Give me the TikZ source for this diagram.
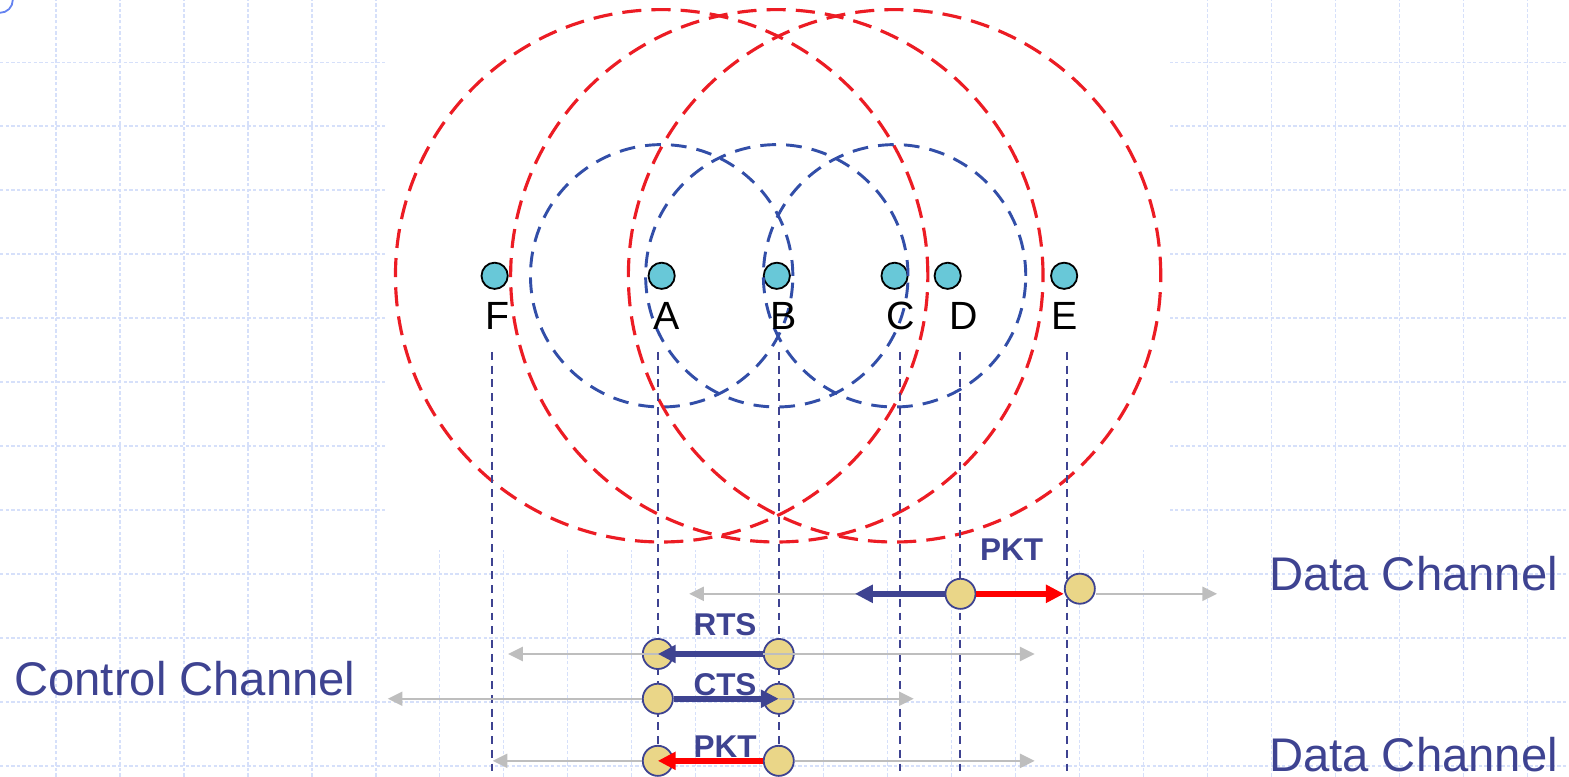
\documentclass[tikz,border=0pt]{standalone}
\usepackage{fontspec}
\setmainfont{Liberation Sans}
\usepackage{tikz}
\usetikzlibrary{
        arrows.meta,
        positioning
    }
\definecolor{chanblue}{RGB}{62,67,145}
\definecolor{rangeblue}{RGB}{50,78,168}
\definecolor{rangered}{RGB}{236,28,36}
\definecolor{stationcyan}{RGB}{104,200,216}
\definecolor{pktyellow}{RGB}{234,214,136}
\definecolor{gridblue}{RGB}{214,224,250}
\definecolor{spillgray}{RGB}{190,190,190}
\definecolor{cornerblue}{RGB}{100,130,240}
\tikzset{
    station/.style={circle,draw=black,fill=stationcyan,line width=0.8pt,inner sep=0pt,minimum size=0.41cm},
    lbl/.style={font=\fontsize{17.5}{20}\selectfont,inner sep=0pt},
    txnode/.style={circle,draw=chanblue,fill=pktyellow,line width=0.8pt,inner sep=0pt,minimum size=0.47cm},
    msg/.style={font=\bfseries\fontsize{14}{16}\selectfont,text=chanblue,inner sep=0pt},
    chan/.style={font=\fontsize{21}{25}\selectfont,text=chanblue,inner sep=0pt},
    shortrange/.style={draw=rangeblue,line width=1.3pt,dash pattern=on 7pt off 4.5pt},
    longrange/.style={draw=rangered,line width=1.4pt,dash pattern=on 8.5pt off 4.5pt},
    timeline/.style={draw=chanblue,line width=0.75pt,dash pattern=on 3.5pt off 2.6pt},
    sig/.style={line width=2.6pt,-{Triangle[length=0.28cm,width=0.27cm]}},
    spill/.style={draw=spillgray,line width=0.9pt,-{Triangle[length=0.23cm,width=0.22cm]}},
    gridline/.style={draw=gridblue,line width=0.5pt,dash pattern=on 1.5pt off 1pt}
}

\begin{document}
\begin{tikzpicture}[node distance=2cm]
    \useasboundingbox (0,0) rectangle (24.52,12.14);
    % squared paper
    \foreach \x in {0.875,1.875,...,23.875}
        \draw[gridline] (\x,0) -- (\x,12.14);
    \foreach \y in {0.17,1.17,...,11.17}
        \draw[gridline] (0,\y) -- (24.52,\y);
    \fill[white] (6.02,3.55) rectangle (18.28,12.14);
    \draw[cornerblue,line width=0.8pt] (0,12.14) circle (0.2);

    % stations
    \node[station] (A) at (10.34,7.83) {};
    \node[station] (B) [right of=A,node distance=1.80cm] {};
    \node[station] (C) [right of=B,node distance=1.84cm] {};
    \node[station] (D) [right of=C,node distance=0.83cm] {};
    \node[station] (E) [right of=D,node distance=1.82cm] {};
    \node[station] (F) [left of=A,node distance=2.61cm] {};

    % transmission ranges
    \foreach \s in {A,B,C} {
        \draw[shortrange] (\s) circle (2.05);
        \draw[longrange] (\s) circle (4.16);
    }

    \node[lbl] (labF) at (7.77,7.20) {F};
    \node[lbl] (labA) at (10.41,7.20) {A};
    \node[lbl] (labB) at (12.25,7.20) {B};
    \node[lbl] (labC) at (14.08,7.20) {C};
    \node[lbl] (labD) at (15.06,7.20) {D};
    \node[lbl] (labE) at (16.64,7.20) {E};

    % time lines
    \foreach \n/\x in {F/7.69,A/10.28,B/12.17,C/14.06,D/15.00,E/16.67} {
        \coordinate (top\n) at (\x,6.64);
        \coordinate (bot\n) at (\x,0);
        \draw[timeline] (top\n) -- (bot\n);
    }

    % data channel, upper
    \coordinate (dataL) at (10.77,2.86);
    \coordinate (dataR) at (19.02,2.86);
    \coordinate (dataTip) at (13.36,2.86);
    \node[txnode] (dD) at (15.01,2.86) {};
    \node[txnode] (dE) at (16.875,2.94) {};
    \draw[spill] (dD) -- (dataL);
    \draw[spill] (dE.east |- dD) -- (dataR);
    \draw[sig,chanblue] (dD) -- (dataTip);
    \draw[sig,red] (dD) -- (dE.west |- dD);
    \node[msg] (pkt1) at (15.81,3.55) {PKT};

    % control channel
    \coordinate (rtsL) at (7.94,1.92);
    \coordinate (rtsR) at (16.17,1.92);
    \coordinate (ctsL) at (6.06,1.22);
    \coordinate (ctsR) at (14.28,1.22);
    \node[txnode] (rA) at (10.28,1.92) {};
    \node[txnode] (rB) at (12.17,1.92) {};
    \node[txnode] (cA) at (10.28,1.22) {};
    \node[txnode] (cB) at (12.17,1.22) {};
    \draw[spill,{Triangle[length=0.23cm,width=0.22cm]}-{Triangle[length=0.23cm,width=0.22cm]}] (rtsL) -- (rtsR);
    \draw[sig,chanblue] (rB) -- (rA.center);
    \node[msg] (rts) at (11.33,2.375) {RTS};
    \draw[spill] (cA) -- (ctsL);
    \draw[spill] (cB.center) -- (ctsR);
    \draw[sig,chanblue] (cA) -- (cB.center);
    \node[msg] (cts) at (11.33,1.44) {CTS};

    % data channel, lower
    \coordinate (pktL) at (7.70,0.25);
    \coordinate (pktR) at (16.17,0.25);
    \node[txnode] (pA) at (10.28,0.25) {};
    \node[txnode] (pB) at (12.17,0.25) {};
    \draw[spill] (pA) -- (pktL);
    \draw[spill] (pB) -- (pktR);
    \draw[sig,red] (pB) -- (pA.center);
    \node[msg] (pkt2) at (11.33,0.47) {PKT};

    \node[chan] (ctrl) at (2.89,1.53) {Control Channel};
    \node[chan] (data1) at (22.09,3.17) {Data Channel};
    \node[chan] (data2) at (22.09,0.35) {Data Channel};
\end{tikzpicture}
\end{document}
